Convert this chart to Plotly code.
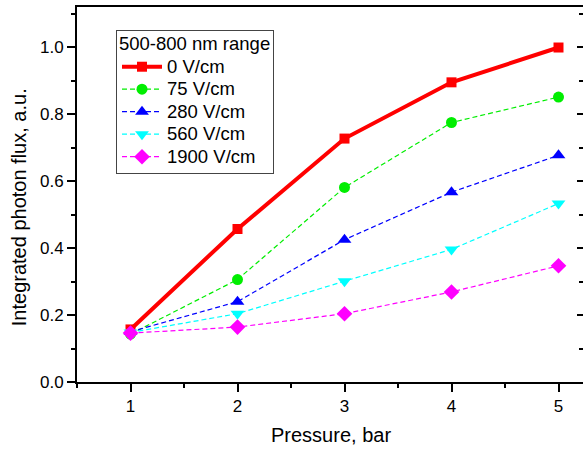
import plotly.graph_objects as go

pressure = [1, 2, 3, 4, 5]
flux_0 = [0.157, 0.457, 0.727, 0.895, 0.999]
flux_75 = [0.143, 0.306, 0.581, 0.775, 0.851]
flux_280 = [0.150, 0.240, 0.425, 0.567, 0.677]
flux_560 = [0.148, 0.204, 0.301, 0.396, 0.533]
flux_1900 = [0.146, 0.164, 0.204, 0.269, 0.347]

names = ["0 V/cm", "75 V/cm", "280 V/cm", "560 V/cm", "1900 V/cm"]
legend_title = "500-800 nm range"
series = [flux_0, flux_75, flux_280, flux_560, flux_1900]
colors = ["#ff0000", "#00ee00", "#0000ff", "#00ffff", "#ff00ff"]
symbols = ["square", "circle", "triangle-up", "triangle-down", "diamond"]
msizes = [10, 11, 12, 12, 12]

FONT = "Arial"
BIG = '<span style="font-size:18.5px">{}</span>'

fig = go.Figure()
for i, (nm, ys) in enumerate(zip(names, series)):
    fig.add_trace(go.Scatter(
        x=pressure, y=ys, name=BIG.format(nm), mode="lines+markers",
        line=dict(color=colors[i], width=4 if i == 0 else 1.2,
                  dash="solid" if i == 0 else "5px,3px"),
        marker=dict(symbol=symbols[i], size=msizes[i], color=colors[i],
                    line=dict(width=0)),
    ))

# invisible trace for right-side mirrored ticks
fig.add_trace(go.Scatter(x=[1], y=[0], yaxis="y2", showlegend=False,
                         mode="markers", marker=dict(opacity=0),
                         hoverinfo="skip"))

yr = [0, 1.12]
fig.update_layout(
    width=583, height=450,
    margin=dict(l=77, r=0, t=7, b=68),
    plot_bgcolor="white", paper_bgcolor="white",
    font=dict(family=FONT, size=17, color="black"),
    xaxis=dict(range=[0.5, 5.229], tickvals=[1, 2, 3, 4, 5],
               ticks="outside", ticklen=8, tickwidth=1.5, tickcolor="black",
               minor=dict(dtick=0.5, tick0=0.5, ticks="outside", ticklen=4,
                          tickwidth=1.5, tickcolor="black"),
               showline=True, linecolor="black", linewidth=2, mirror=True,
               showgrid=False, zeroline=False, automargin=False,
               tickfont=dict(size=17)),
    yaxis=dict(range=yr, tickvals=[0, 0.2, 0.4, 0.6, 0.8, 1.0],
               ticktext=["0.0", "0.2", "0.4", "0.6", "0.8", "1.0"],
               ticks="outside", ticklen=8, tickwidth=1.5, tickcolor="black",
               minor=dict(dtick=0.1, tick0=0, ticks="outside", ticklen=4,
                          tickwidth=1.5, tickcolor="black"),
               showline=True, linecolor="black", linewidth=2, mirror=False,
               showgrid=False, zeroline=False, automargin=False,
               tickfont=dict(size=17)),
    yaxis2=dict(range=yr, overlaying="y", side="right", anchor="free",
                position=1, tickvals=[0, 0.2, 0.4, 0.6, 0.8, 1.0],
                showticklabels=False, ticks="inside", ticklen=6,
                tickwidth=1.5, tickcolor="black",
                minor=dict(dtick=0.1, tick0=0, ticks="inside", ticklen=4,
                           tickwidth=1.5, tickcolor="black"),
                showline=False, showgrid=False, zeroline=False,
                automargin=False),
    legend=dict(x=(116 - 77) / 506, y=(382.5 - 30) / 375.5,
                xanchor="left", yanchor="top",
                bordercolor="#444444", borderwidth=1, bgcolor="white",
                title=dict(text=BIG.format(legend_title), font=dict(size=15)),
                font=dict(size=15), tracegroupgap=0, itemwidth=40),
    showlegend=True,
    annotations=[
        dict(text="Pressure, bar", xref="paper", yref="paper",
             x=(331 - 77) / 506, y=-(436 - 382.5) / 375.5,
             xanchor="center", yanchor="middle", showarrow=False,
             font=dict(size=20)),
        dict(text="Integrated photon flux, a.u.", xref="paper", yref="paper",
             x=-(77 - 19) / 506, y=(382.5 - 207.5) / 375.5, textangle=-90,
             xanchor="center", yanchor="middle", showarrow=False,
             font=dict(size=20)),
    ],
)

fig.write_html("out.html", config={"displayModeBar": False},
               post_script="document.body.style.margin='0';"
                           "document.body.style.padding='0';")
